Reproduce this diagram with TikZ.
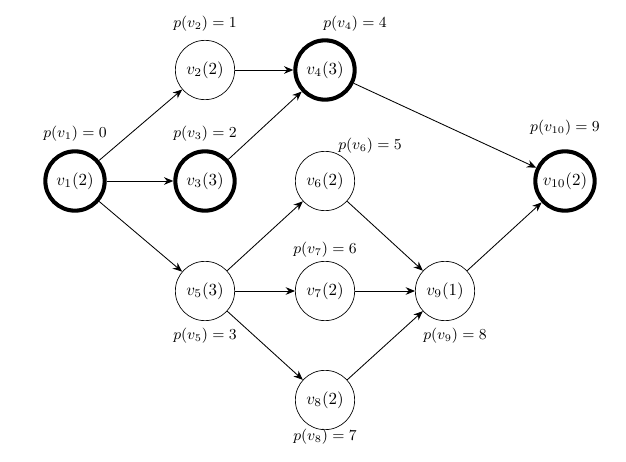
\documentclass[tikz,border=0pt]{standalone}
\usepackage{amsmath}
\usepackage{tikz}
\usetikzlibrary{arrows.meta}

\tikzset{
    vert/.style={circle, draw, minimum size=35pt, inner sep=0pt},
    vertsel/.style={vert, line width=2.4pt},
    plabel/.style={font=\small, inner sep=1pt},
    edge/.style={->, line width=0.5pt}
}

\begin{document}
\begin{tikzpicture}[>={Stealth[length=5.5pt, width=4.5pt]}, x=0.59pt, y=-0.59pt]

\useasboundingbox (0,0) rectangle (626,462);

% Vèrtexs

\node[vertsel] (v1) at (75,181) {$v_1(2)$};
\node[vert] (v2) at (205,70) {$v_2(2)$};
\node[vertsel] (v3) at (205,181) {$v_3(3)$};
\node[vertsel] (v4) at (325,70) {$v_4(3)$};
\node[vert] (v5) at (205,291) {$v_5(3)$};
\node[vert] (v6) at (325,181) {$v_6(2)$};
\node[vert] (v7) at (325,291) {$v_7(2)$};
\node[vert] (v8) at (325,400) {$v_8(2)$};
\node[vert] (v9) at (445,291) {$v_9(1)$};
\node[vertsel] (v10) at (565,181) {$v_{10}(2)$};


% Etiquetes

\node[plabel] (p1) at (75,134) {$p(v_1) = 0$};
\node[plabel] (p2) at (205,24) {$p(v_2) = 1$};
\node[plabel] (p3) at (205,134) {$p(v_3) = 2$};
\node[plabel] (p4) at (355,24) {$p(v_4) = 4$};
\node[plabel] (p5) at (205,336) {$p(v_5) = 3$};
\node[plabel] (p6) at (370,146) {$p(v_6) = 5$};
\node[plabel] (p7) at (325,250) {$p(v_7) = 6$};
\node[plabel] (p8) at (325,437) {$p(v_8) = 7$};
\node[plabel] (p9) at (455,336) {$p(v_9) = 8$};
\node[plabel] (p10) at (565,128) {$p(v_{10}) = 9$};


% Arestes

\draw[edge] (v1) -- (v2);
\draw[edge] (v1) -- (v3);
\draw[edge] (v1) -- (v5);
\draw[edge] (v2) -- (v4);
\draw[edge] (v3) -- (v4);
\draw[edge] (v4) -- (v10);
\draw[edge] (v5) -- (v6);
\draw[edge] (v5) -- (v7);
\draw[edge] (v5) -- (v8);
\draw[edge] (v6) -- (v9);
\draw[edge] (v7) -- (v9);
\draw[edge] (v8) -- (v9);
\draw[edge] (v9) -- (v10);

\end{tikzpicture}
\end{document}
